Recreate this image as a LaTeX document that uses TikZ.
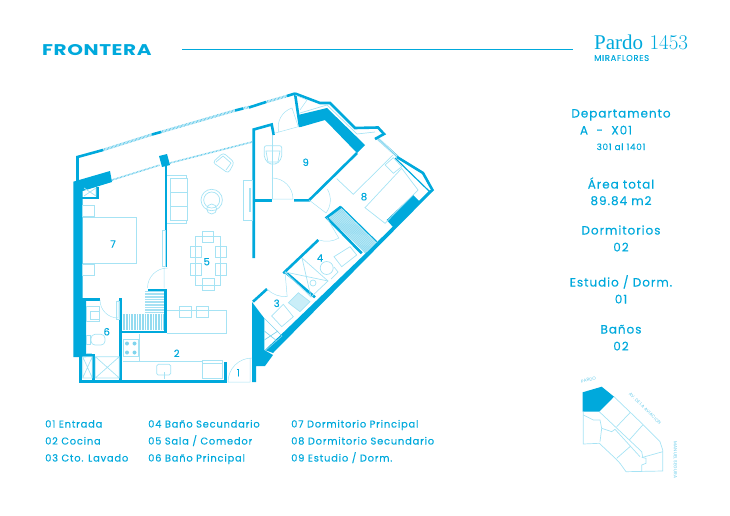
\documentclass[tikz,border=0pt]{standalone}
\usepackage{fontspec}
\newfontfamily\planfont[LetterSpace=8,FakeBold=0.25]{Poppins}
\newfontfamily\brandfont[LetterSpace=3]{Poppins}
\newfontfamily\titlefont{Liberation Serif}
\definecolor{planblue}{HTML}{00A9DC}
\definecolor{paleblue}{HTML}{A6E3F4}
\begin{document}
\begin{tikzpicture}[x=1pt,y=-1pt]
	\tikzstyle{wall} = [draw=planblue, line width=2.6pt]
	\tikzstyle{thin wall} = [draw=planblue, line width=1.2pt]
	\tikzstyle{solid wall} = [fill=planblue]
	\tikzstyle{furniture} = [draw=paleblue, line width=0.7pt]
	\tikzstyle{door} = [draw=paleblue, line width=0.5pt]
	\tikzstyle{glass} = [draw=planblue!60, line width=2.6pt, dash pattern=on 0.7pt off 0.7pt]
	\tikzstyle{stripes} = [draw=planblue!42, dash pattern=on 0.8pt off 0.8pt]
	\tikzstyle{room number} = [text=planblue, font=\planfont\fontsize{10}{12}\selectfont]
	\tikzstyle{legend} = [text=planblue, anchor=base west, inner sep=0pt, font=\planfont\fontsize{9.9}{11}\selectfont]
	\tikzstyle{data} = [text=planblue, anchor=base, inner sep=0pt, font=\planfont\fontsize{12}{14}\selectfont]
	\tikzstyle{street} = [text=planblue!60, inner sep=0pt, font=\brandfont\fontsize{4.4}{5}\selectfont]
	\useasboundingbox (0,0) rectangle (730,516);

	% header
	\node[text=planblue, anchor=west, inner sep=0pt, font=\brandfont\bfseries\fontsize{15.5}{16}\selectfont] (brand) at (42,50) {\scalebox{1.29}[1]{FRONTERA}};
	\coordinate (rule start) at (182,49);
	\coordinate (rule end) at (573,49);
	\draw[draw=planblue, line width=0.6pt] (rule start) -- (rule end);
	\node[text=planblue, anchor=west, inner sep=0pt, font=\fontsize{21}{22}\selectfont] (project) at (594,42) {{\titlefont Pardo} \oldstylenums{1453}};
	\node[text=planblue, anchor=west, inner sep=0pt, font=\planfont\fontsize{8.4}{9}\selectfont] (district) at (594,58) {MIRAFLORES};

	% data column
	\node[data] (unit) at (621,117.5) {Departamento};
	\node[data] (unit code) at (606,134.5) {A\ \ -\ \ X01};
	\node[data, font=\planfont\fontsize{8.8}{10}\selectfont] (floors) at (621,150) {301 al 1401};
	\node[data] (area title) at (621,188.5) {Área total};
	\node[data] (area value) at (621,205) {89.84 m2};
	\node[data] (bedrooms title) at (621,234.5) {Dormitorios};
	\node[data] (bedrooms value) at (621,251.5) {02};
	\node[data] (study title) at (621,286.5) {Estudio / Dorm.};
	\node[data] (study value) at (621,303.5) {01};
	\node[data] (baths title) at (621,333.5) {Baños};
	\node[data] (baths value) at (621,350.5) {02};

	% legend
	\node[legend] (l1) at (45,427.5) {01 Entrada};
	\node[legend] (l2) at (45,444.5) {02 Cocina};
	\node[legend] (l3) at (45,461.5) {03 Cto. Lavado};
	\node[legend] (l4) at (148,427.5) {04 Baño Secundario};
	\node[legend] (l5) at (148,444.5) {05 Sala / Comedor};
	\node[legend] (l6) at (148,461.5) {06 Baño Principal};
	\node[legend] (l7) at (291,427.5) {07 Dormitorio Principal};
	\node[legend] (l8) at (291,444.5) {08 Dormitorio Secundario};
	\node[legend] (l9) at (291,461.5) {09 Estudio / Dorm.};

	% closets and windows
	\fill[paleblue!70] (329,218) -- (341,208) -- (376,243) -- (365,253) -- cycle;
	\draw[stripes, line width=15pt] (335,213) -- (370.5,248);
	\draw[stripes, line width=16pt] (122.5,322) -- (164.5,322);
	\draw[stripes, line width=22pt, draw=planblue!35] (156,291) -- (156,313);
	\draw[glass] (103,150) -- (152,134.5);
	\draw[glass] (161,132) -- (235,110.5);
	\draw[glass] (243,108.5) -- (249,107);
	\draw[glass] (266,102) -- (287,96);
	\draw[glass, line width=1.6pt] (112,180) -- (160,165);
	\draw[glass, line width=1.6pt] (170,163) -- (252,142);
	\draw[glass] (377,138) -- (398,157);
	\draw[furniture, double] (273,135) -- (273,199);

	% solid walls
	\fill[solid wall] (73.3,181.7) -- (110,171) -- (112,182) -- (82.7,191) -- (82.7,298) -- (86,298) -- (86,357) -- (73.3,357) -- cycle;
	\fill[solid wall] (159,156) -- (167,154) -- (170,165) -- (162,167) -- cycle;
	\fill[solid wall] (298,115) -- (327,108) -- (365,145) -- (357,153) -- (325,120) -- (300.7,127) -- cycle;
	\fill[solid wall] (386.7,220) -- (413,195) -- (420,202) -- (393,227) -- cycle;
	\fill[solid wall] (433,191) -- (273,353) -- (265,350) -- (367,252) -- (430,190) -- cycle;
	\fill[solid wall] (252,302) -- (264.3,318.3) -- (264.3,350) -- (273,355) -- (265,366) -- (256,366) -- (256,382) -- (252,382) -- cycle;

	% walls, left part
	\draw[wall] (77.5,181) -- (77.5,157) -- (103,150);
	\draw[wall] (152,134.5) -- (161,132);
	\draw[wall] (235,110.5) -- (243,108.5);
	\draw[wall] (249,107.5) -- (266,102);
	\draw[wall] (287,96) -- (295,93.5);
	\draw[wall] (97.5,187) -- (97.5,198) -- (82,198);
	\draw[wall] (166,165) -- (166,267);
	\draw[wall] (147.5,290) -- (165.7,290) -- (165.7,332) -- (120.5,332);
	\draw[wall] (120.5,298) -- (120.5,381.5);
	\draw[wall] (79,381.5) -- (225.5,381.5) -- (225.5,362);
	\draw[wall] (80.5,381.5) -- (80.5,355.5) -- (93.7,355.5) -- (93.7,380);
	\draw[wall] (84,299.5) -- (100,299.5);

	% walls, right part
	\draw[wall] (253.7,258) -- (253.7,129.5) -- (271.7,124.5) -- (273.7,135);
	\draw[wall] (253.7,200.3) -- (272,200.3);
	\draw[wall] (294,200.3) -- (309,200.3) -- (357,153);
	\draw[wall] (295,93.5) -- (300,127);
	\draw[wall] (295,93.5) -- (320,103) -- (330,103) -- (355,128) -- (378,127.5) -- (384,134) -- (375,139);
	\draw[wall] (397,157) -- (423,173) -- (433,191);
	\draw[wall] (253,301.7) -- (267,289);
	\draw[wall] (283.3,273.3) -- (318.3,240);
	\draw[wall] (285,271.7) -- (315,297.3);
	\draw[wall] (361.7,253.3) -- (326.7,217.5) -- (341,206.7);
	\draw[thin wall] (341,206.7) -- (376.7,241.7);
	\draw[thin wall] (395,158) -- (430,192);

	% balcony and doors
	\draw[furniture] (300,113) -- (327,105) -- (357,134) -- (375,132);
	\draw[door] (300,110) -- (307,100) -- (295,95);
	\draw[door] (274.3,133.3) -- (298.3,126.7) -- (292,108) arc[start angle=-108, end angle=-195, radius=20];
	\draw[door] (272,178) arc[start angle=-90, end angle=0, radius=21] -- (272,199);
	\draw[door] (309,200) -- (326,213) arc[start angle=37, end angle=-30, radius=21.5];
	\draw[door] (319,240) arc[start angle=109, end angle=60, radius=24] -- (326.7,217.5);
	\draw[door] (267,289) arc[start angle=136, end angle=85, radius=25] -- (285,271.7);
	\draw[door] (147.5,288) arc[start angle=180, end angle=270, radius=20] -- (164,268) -- (164,288);
	\draw[door] (100,300) arc[start angle=180, end angle=90, radius=18] -- (118,300);
	\draw[door] (116.7,301) rectangle (119,319);
	\draw[door] (228,382) arc[start angle=180, end angle=270, radius=24] -- (250,358) -- (250,382) -- (228,382);

	% bedroom 7
	\draw[furniture] (82.7,217.7) -- (136.7,217.7) -- (136.7,263.3) -- (82.7,263.3);
	\draw[furniture] (82.7,205.7) rectangle (94.3,216.7);
	\draw[furniture] (82.7,264) rectangle (94.3,275);
	\draw[furniture] (84,196) -- (96,188) -- (96,196) -- (84,188);
	\draw[furniture] (162,230) rectangle (165,266);

	% living room
	\draw[furniture] (167.3,175) -- (186,175) -- (186,178) -- (187.7,178) -- (187.7,220) -- (186,220) -- (186,223.3) -- (167.3,223.3);
	\draw[furniture] (170,178) -- (187.7,178) (170,192) -- (187.7,192) (170,206.7) -- (187.7,206.7) (170,220) -- (187.7,220) (170,178) -- (170,220);
	\draw[furniture] (211.7,200) circle (10.7) (211.7,200) circle (8) (211.7,209) circle (5);
	\draw[furniture, rounded corners=3pt] (212.7,162.3) -- (223.3,152.7) -- (234.3,162.3) -- (228.3,173.3) -- cycle;
	\draw[furniture] (216,162) -- (223,156) -- (231,163) -- (226,170);
	\draw[furniture] (243.3,180) rectangle (252.7,220);
	\draw[draw=paleblue, line width=2pt] (250,188) -- (250,211.7);

	% dining table
	\draw[furniture] (195.7,236.7) rectangle (220.7,285);
	\draw[furniture] (202.7,231) rectangle (213.7,242);
	\draw[furniture] (202.7,278.5) rectangle (214,290);
	\draw[furniture] (190,246.7) rectangle (201.7,257.3);
	\draw[furniture] (190,263.5) rectangle (201.7,275.7);
	\draw[furniture] (215,246.7) rectangle (226.7,257.3);
	\draw[furniture] (215,263.5) rectangle (226.7,275.7);

	% kitchen
	\draw[furniture] (167.3,310) -- (226.7,310) -- (226.7,333.3) -- (167.3,333.3);
	\draw[furniture] (179.3,306) rectangle (191,317.7);
	\draw[furniture] (196.7,306) rectangle (208.7,317.7);
	\draw[furniture] (139.3,334) -- (139.3,361.7) -- (202.7,361.7);
	\draw[furniture] (122.7,361.7) -- (139.3,361.7);
	\draw[furniture] (123.3,339.3) rectangle (138.3,356.7);
	\fill[planblue!50] (127,343.5) circle (2) (134.5,343.5) circle (2) (127,352.5) circle (2) (134.5,352.5) circle (2);
	\draw[furniture, rounded corners=1.5pt] (156.7,364.3) rectangle (170.7,375);
	\draw[furniture] (164,372) -- (164,379);
	\draw[furniture] (202.7,360.7) rectangle (222.3,378.3);
	\draw[furniture] (202.7,363.5) -- (222.3,363.5);

	% bath 6
	\draw[furniture] (86,306.7) rectangle (99.3,321);
	\draw[furniture] (90,311) rectangle (99.3,319);
	\draw[furniture, rounded corners=4pt] (91,334.3) rectangle (105,345);
	\draw[furniture] (86,335.5) rectangle (90,344);
	\draw[furniture] (86,353.3) -- (92,353.3);
	\draw[furniture] (95.3,356.7) rectangle (119.3,378) (95.3,378) -- (119.3,356.7) (95.3,356.7) -- (119.3,378);
	\draw[furniture] (82.7,356.7) rectangle (92.3,378) (82.7,378) -- (92.3,356.7) (82.7,356.7) -- (92.3,378);

	% study 9
	\draw[furniture, rounded corners=2pt] (264.3,145.7) -- (281.7,145.7) -- (281.7,158) -- (277,164) -- (269,164) -- (264.3,158) -- cycle;
	\draw[furniture] (266,151) -- (280,151) -- (278,162) -- (268,162) -- cycle;

	% bedroom 8
	\draw[furniture] (336.7,178.7) -- (353.3,194.3) -- (393,155);
	\draw[furniture] (365,207.7) -- (385,223.3) -- (418,190) -- (401.7,168.3) -- cycle;
	\draw[furniture] (385,165) -- (393.3,173.3) -- (401.7,166.7) -- (393.3,157.7) -- cycle;

	% bath 4 and laundry 3
	\draw[furniture] (302,258) -- (328,281) -- (311,297) -- (285,272);
	\draw[furniture] (302,258) -- (311,297) (285,272) -- (328,281);
	\draw[furniture] (313,283) circle (3);
	\draw[furniture] (326.7,268) circle (6.5);
	\draw[furniture] (331,279) -- (338,272) -- (334,267);
	\draw[furniture] (334,256.7) -- (350,246.7) -- (356.7,255) -- (341.7,266.7) -- cycle;
	\draw[furniture] (271.7,316) -- (283.3,304.3) -- (293.3,316.7) -- (281.7,326.7) -- cycle;
	\draw[furniture, fill=paleblue!60] (288.3,302.7) -- (298.3,292.7) -- (310,301.7) -- (300,311.7) -- cycle;
	\draw[furniture, draw=planblue!50] (264.3,318.3) -- (282,336) -- (266,350) (264.3,331) -- (277,341) (264.3,340) -- (278,331);

	% room numbers
	\node[room number] (room 1) at (238.3,372.7) {1};
	\node[room number] (room 2) at (176.7,353.3) {2};
	\node[room number] (room 3) at (276.7,303.3) {3};
	\node[room number] (room 4) at (320,258) {4};
	\node[room number] (room 5) at (206.7,261.7) {5};
	\node[room number] (room 6) at (106.7,331.7) {6};
	\node[room number] (room 7) at (113,244) {7};
	\node[room number] (room 8) at (364,196.7) {8};
	\node[room number] (room 9) at (305.7,162.3) {9};

	% key plan
	\fill[solid wall] (582.7,392.3) -- (601.7,386.7) -- (614,396.7) -- (599.3,411.7) -- (582.7,411.7) -- cycle;
	\draw[furniture] (614,396.7) -- (641.7,423.3) -- (660,441.7) -- (662.7,450) -- (662.7,471) -- (626,471.7) -- (620,463.3) -- (616,459) -- (599.3,443.3) -- (583.3,444) -- (583.3,411.7);
	\draw[furniture] (599.3,411.7) -- (641.7,451.7) -- (642.7,457.3) -- (662.7,451.7);
	\draw[furniture] (616.7,426.7) -- (630,412.7);
	\draw[furniture] (629.3,440) -- (642.7,425);
	\draw[furniture] (616.7,458.3) -- (630.7,446);
	\draw[furniture] (641.7,457.3) -- (646,458.3) -- (646,463.3) -- (641.7,465) -- (641.7,471);
	\draw[furniture] (583.3,415) -- (593.3,420) -- (600,420) -- (601.7,428.3) -- (600,441.7);
	\draw[furniture] (601.7,428.3) -- (611.7,431.7) -- (615,429.3) -- (640,456.7);
	\node[street, rotate=15] (street north) at (588.5,380) {PARDO};
	\node[street, rotate=-45] (street east) at (645,408.5) {AV. DE LA AVIACION};
	\node[street, rotate=-90] (street south) at (675.5,460) {MANUEL SEGURA};
\end{tikzpicture}
\end{document}
